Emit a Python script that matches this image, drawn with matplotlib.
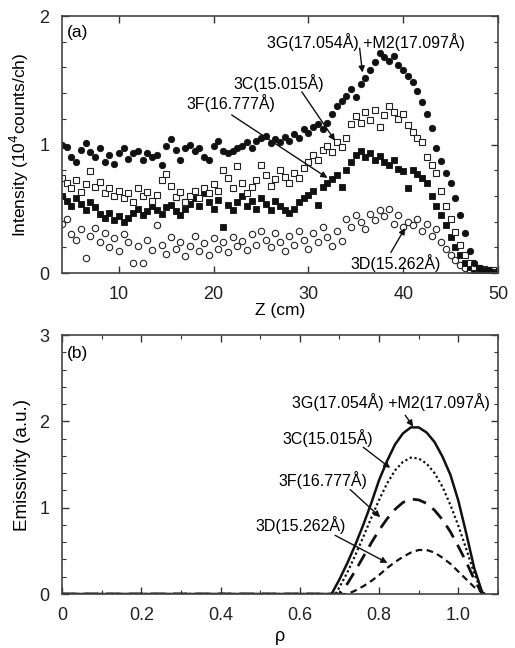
import numpy as np
import matplotlib
matplotlib.use("Agg")
import matplotlib.pyplot as plt
from matplotlib.ticker import MultipleLocator

plt.rcParams['font.family'] = ['Liberation Sans', 'DejaVu Sans']

# (a) measured intensity vs Z (channel step 0.5 cm from Z = 4 cm), units 1e4 counts/ch
g3_m2 = [1.00, 0.98, 0.90, 0.86, 0.96, 1.01, 0.94, 0.90, 0.97, 0.86,
         0.92, 0.85, 0.93, 0.97, 0.89, 0.93, 0.95, 0.88, 0.93, 0.90,
         0.92, 0.84, 0.99, 1.04, 0.96, 0.88, 0.97, 1.00, 0.95, 0.97,
         0.90, 0.88, 0.99, 1.03, 0.95, 0.93, 0.95, 0.97, 0.99, 1.02,
         0.97, 1.03, 1.05, 1.07, 1.01, 1.04, 1.02, 1.06, 1.03, 1.08,
         1.05, 1.12, 1.09, 1.14, 1.16, 1.12, 1.17, 1.24, 1.30, 1.34,
         1.38, 1.43, 1.37, 1.47, 1.52, 1.58, 1.64, 1.71, 1.68, 1.65,
         1.69, 1.62, 1.58, 1.53, 1.49, 1.42, 1.33, 1.24, 1.13, 0.97,
         0.87, 0.78, 0.70, 0.58, 0.45, 0.31, 0.17, 0.08, 0.04, 0.02,
         0.02, 0.01, 0.01]
c3 = [0.74, 0.70, 0.66, 0.72, 0.63, 0.69, 0.79, 0.67, 0.71, 0.62,
      0.66, 0.60, 0.64, 0.58, 0.62, 0.55, 0.66, 0.60, 0.63, 0.56,
      0.61, 0.72, 0.77, 0.68, 0.59, 0.63, 0.55, 0.60, 0.64, 0.58,
      0.66, 0.62, 0.69, 0.64, 0.80, 0.74, 0.66, 0.83, 0.70, 0.62,
      0.67, 0.72, 0.84, 0.76, 0.68, 0.73, 0.80, 0.75, 0.70, 0.78,
      0.74, 0.82, 0.86, 0.92, 0.88, 0.96, 0.99, 0.94, 1.02, 0.98,
      1.05, 1.16, 1.22, 1.17, 1.25, 1.19, 1.27, 1.14, 1.23, 1.30,
      1.25, 1.20, 1.24, 1.15, 1.10, 1.05, 1.02, 0.90, 0.84, 0.78,
      0.64, 0.52, 0.42, 0.32, 0.22, 0.14, 0.08, 0.05, 0.04, 0.03,
      0.02, 0.02, 0.01]
f3 = [0.60, 0.56, 0.52, 0.58, 0.54, 0.49, 0.55, 0.51, 0.46, 0.43,
      0.47, 0.41, 0.44, 0.40, 0.43, 0.47, 0.50, 0.45, 0.48, 0.52,
      0.49, 0.46, 0.51, 0.53, 0.48, 0.45, 0.50, 0.54, 0.58, 0.52,
      0.62, 0.55, 0.50, 0.57, 0.36, 0.53, 0.49, 0.55, 0.60, 0.52,
      0.56, 0.50, 0.58, 0.54, 0.49, 0.56, 0.52, 0.49, 0.47, 0.50,
      0.55, 0.58, 0.61, 0.64, 0.53, 0.67, 0.70, 0.73, 0.76, 0.67,
      0.80, 0.86, 0.92, 0.95, 0.90, 0.93, 0.88, 0.91, 0.86, 0.84,
      0.88, 0.81, 0.79, 0.66, 0.80, 0.77, 0.74, 0.70, 0.60, 0.52,
      0.45, 0.37, 0.28, 0.20, 0.14, 0.08, 0.05, 0.03, 0.02, 0.01,
      0.01, 0.00, 0.00]
d3 = [0.38, 0.42, 0.30, 0.26, 0.34, 0.12, 0.29, 0.35, 0.24, 0.31,
      0.20, 0.27, 0.17, 0.30, 0.24, 0.08, 0.21, 0.08, 0.26, 0.18,
      0.37, 0.22, 0.15, 0.28, 0.19, 0.24, 0.13, 0.21, 0.29, 0.17,
      0.23, 0.14, 0.27, 0.19, 0.24, 0.16, 0.28, 0.21, 0.25, 0.18,
      0.30, 0.22, 0.33, 0.26, 0.20, 0.31, 0.24, 0.17, 0.29, 0.22,
      0.33, 0.26, 0.19, 0.31, 0.24, 0.36, 0.28, 0.21, 0.33, 0.25,
      0.42, 0.36, 0.45, 0.40, 0.34, 0.46, 0.41, 0.49, 0.44, 0.50,
      0.38, 0.45, 0.36, 0.40, 0.37, 0.42, 0.33, 0.38, 0.29, 0.34,
      0.24, 0.19, 0.14, 0.10, 0.06, 0.04, 0.02, 0.02, 0.01, 0.01,
      0.01, 0.00, 0.00]
z = 4.0 + 0.5 * np.arange(len(g3_m2))

# (b) emissivity profiles vs rho
rho_g = [0.0, 0.68, 0.70, 0.72, 0.74, 0.76, 0.78, 0.80, 0.82, 0.84, 0.86, 0.88,
         0.90, 0.92, 0.94, 0.96, 0.98, 1.00, 1.02, 1.04, 1.06, 1.065]
emi_g = [0.0, 0.0, 0.17, 0.36, 0.57, 0.80, 1.05, 1.32, 1.54, 1.73, 1.86, 1.93,
         1.93, 1.87, 1.76, 1.59, 1.38, 1.08, 0.70, 0.30, 0.02, 0.0]
rho_c = [0.0, 0.69, 0.70, 0.72, 0.74, 0.76, 0.78, 0.80, 0.82, 0.84, 0.86, 0.88,
         0.90, 0.92, 0.94, 0.96, 0.98, 1.00, 1.02, 1.04, 1.06]
emi_c = [0.0, 0.0, 0.08, 0.25, 0.45, 0.66, 0.88, 1.09, 1.28, 1.43, 1.53, 1.58,
         1.57, 1.51, 1.40, 1.24, 1.03, 0.79, 0.52, 0.24, 0.01]
rho_f = [0.0, 0.70, 0.72, 0.74, 0.76, 0.78, 0.80, 0.82, 0.84, 0.86, 0.88,
         0.90, 0.92, 0.94, 0.96, 0.98, 1.00, 1.02, 1.04, 1.06]
emi_f = [0.0, 0.0, 0.12, 0.27, 0.43, 0.59, 0.74, 0.87, 0.98, 1.06, 1.10,
         1.09, 1.05, 0.97, 0.86, 0.72, 0.55, 0.37, 0.17, 0.0]
rho_d = [0.0, 0.72, 0.74, 0.76, 0.78, 0.80, 0.82, 0.84, 0.86, 0.88, 0.90,
         0.92, 0.94, 0.96, 0.98, 1.00, 1.02, 1.04, 1.06, 1.07]
emi_d = [0.0, 0.0, 0.04, 0.09, 0.15, 0.22, 0.30, 0.37, 0.43, 0.48, 0.51,
         0.51, 0.48, 0.42, 0.35, 0.26, 0.17, 0.08, 0.02, 0.0]

lab_g = "3G(17.054Å) +M2(17.097Å)"
lab_c = "3C(15.015Å)"
lab_f = "3F(16.777Å)"
lab_d = "3D(15.262Å)"

fig = plt.figure(figsize=(5.15, 6.48), dpi=100)
ax1 = fig.add_axes([0.1204, 0.5787, 0.8466, 0.3966])
ax2 = fig.add_axes([0.1204, 0.0833, 0.8466, 0.3997])

ms = 4.6
ax1.plot(z, d3, 'o', ms=ms, mfc='white', mec='#222', mew=0.8, ls='none')
ax1.plot(z, f3, 's', ms=ms, mfc='#111', mec='#111', mew=0.6, ls='none')
ax1.plot(z, c3, 's', ms=ms, mfc='white', mec='#222', mew=0.8, ls='none')
ax1.plot(z, g3_m2, 'o', ms=ms, mfc='#111', mec='#111', mew=0.6, ls='none')

ax2.plot(rho_g, emi_g, color='#111', lw=1.8, ls='-')
ax2.plot(rho_c, emi_c, color='#111', lw=1.6, ls=(0, (1, 1.2)))
ax2.plot(rho_f, emi_f, color='#111', lw=2.0, ls=(0, (5, 3)))
ax2.plot(rho_d, emi_d, color='#111', lw=1.6, ls=(0, (3, 2)))

arrow = dict(arrowstyle='-|>', color='#111', lw=1.0, mutation_scale=9, shrinkA=0, shrinkB=0)
tfs = 11.5

# annotations panel (a)
ax1.text(25.6, 1.80, lab_g, fontsize=tfs, ha='left', va='center')
ax1.annotate('', xy=(35.7, 1.56), xytext=(35.4, 1.75), arrowprops=arrow)
ax1.text(22.1, 1.48, lab_c, fontsize=tfs, ha='left', va='center')
ax1.annotate('', xy=(32.8, 1.03), xytext=(29.3, 1.41), arrowprops=arrow)
ax1.text(17.1, 1.32, lab_f, fontsize=tfs, ha='left', va='center')
ax1.annotate('', xy=(32.0, 0.74), xytext=(21.9, 1.23), arrowprops=arrow)
ax1.text(34.4, 0.08, lab_d, fontsize=tfs, ha='left', va='center')
ax1.annotate('', xy=(40.2, 0.35), xytext=(38.7, 0.16), arrowprops=arrow)
ax1.text(0.011, 0.935, "(a)", transform=ax1.transAxes, fontsize=12.5, ha='left', va='center')

# annotations panel (b)
ax2.text(0.581, 2.22, lab_g, fontsize=tfs, ha='left', va='center')
ax2.annotate('', xy=(0.886, 1.94), xytext=(0.866, 2.07), arrowprops=arrow)
ax2.text(0.556, 1.81, lab_c, fontsize=tfs, ha='left', va='center')
ax2.annotate('', xy=(0.828, 1.46), xytext=(0.760, 1.70), arrowprops=arrow)
ax2.text(0.545, 1.32, lab_f, fontsize=tfs, ha='left', va='center')
ax2.annotate('', xy=(0.803, 0.89), xytext=(0.727, 1.21), arrowprops=arrow)
ax2.text(0.487, 0.80, lab_d, fontsize=tfs, ha='left', va='center')
ax2.annotate('', xy=(0.821, 0.36), xytext=(0.689, 0.68), arrowprops=arrow)
ax2.text(0.011, 0.93, "(b)", transform=ax2.transAxes, fontsize=12.5, ha='left', va='center')

# axes setup
ax1.set_xlim(4, 50)
ax1.set_ylim(0, 2)
ax1.set_xticks([10, 20, 30, 40, 50])
ax1.set_yticks([0, 1, 2])
ax1.yaxis.set_minor_locator(MultipleLocator(0.2))
ax1.set_xlabel("Z (cm)", fontsize=12.5, labelpad=0)
ax1.set_ylabel("Intensity (10$^4$counts/ch)", fontsize=12.5, labelpad=6)

ax2.set_xlim(0, 1.1)
ax2.set_ylim(0, 3)
ax2.set_xticks([0, 0.2, 0.4, 0.6, 0.8, 1.0])
ax2.set_xticklabels(["0", "0.2", "0.4", "0.6", "0.8", "1.0"])
ax2.set_yticks([0, 1, 2, 3])
ax2.xaxis.set_minor_locator(MultipleLocator(0.1))
ax2.yaxis.set_minor_locator(MultipleLocator(0.2))
ax2.set_xlabel("ρ", fontsize=13, labelpad=3)
ax2.set_ylabel("Emissivity (a.u.)", fontsize=13.5, labelpad=6)

for ax in (ax1, ax2):
    ax.tick_params(which='both', direction='in', top=True, right=True, colors='#333',
                   labelcolor='#222', labelsize=13)
    ax.tick_params(which='major', length=5, width=1.0)
    ax.tick_params(which='minor', length=3, width=0.8)
    ax.tick_params(axis='x', which='major', pad=9)
    ax.tick_params(axis='y', which='major', pad=9)
    for s in ax.spines.values():
        s.set_color('#444')
        s.set_linewidth(1.2)

fig.savefig("out.png", dpi=100)
